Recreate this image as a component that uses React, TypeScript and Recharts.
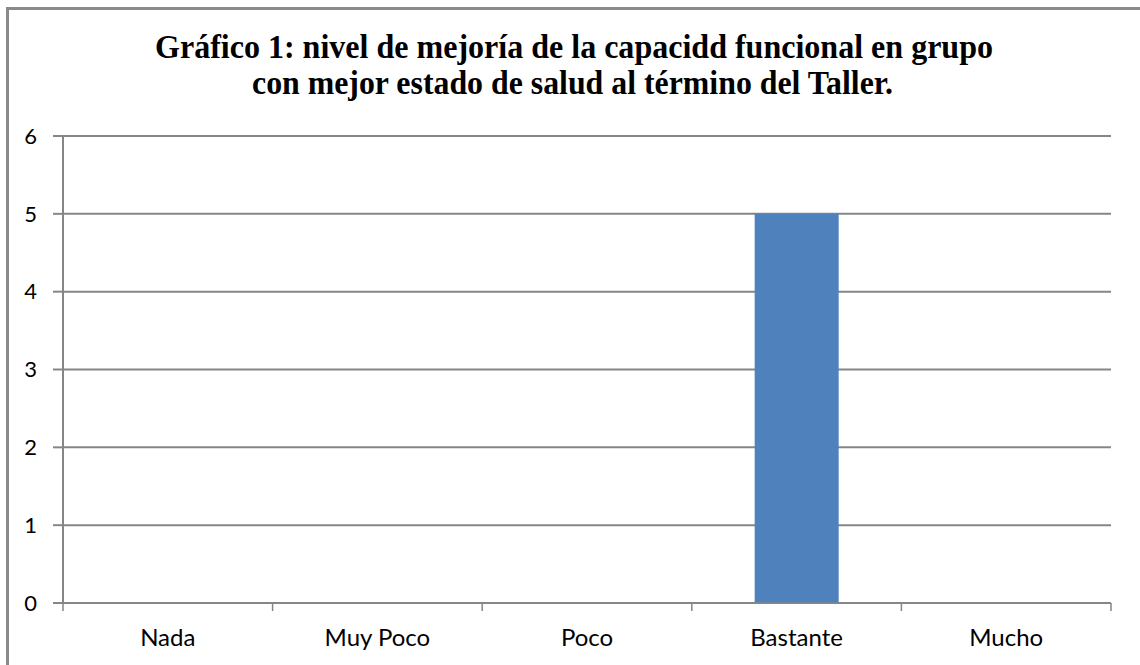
import React from 'react';
import { BarChart, Bar, XAxis, YAxis, CartesianGrid } from 'recharts';

const categories = ['Nada', 'Muy Poco', 'Poco', 'Bastante', 'Mucho'];
const values = [0, 0, 0, 5, 0];
const yTicks = [0, 1, 2, 3, 4, 5, 6];
const titleLines = [
  'Gráfico 1: nivel de mejoría de la capacidd funcional en grupo',
  'con mejor estado de salud al término del Taller.',
];

const data = categories.map((c, i) => ({ name: c, value: values[i] }));

const GRAY = '#868686';
const Y_FONT = { fontFamily: 'Lato, "Open Sans", sans-serif', fontSize: 22, fill: '#000' };
const TITLE_STYLE = { fontFamily: '"Liberation Serif", "Times New Roman", serif', fontWeight: 'bold' as const, fontSize: 33 };

function CategoryTick(props: any) {
  const { x, y, payload, index, width } = props;
  const half = payload && typeof payload.offset === 'number' && payload.offset > 0
    ? payload.offset
    : (width || 1048) / categories.length / 2;
  const isLast = index === categories.length - 1;
  return (
    <g>
      <line x1={x - half} x2={x - half} y1={y} y2={y + 8} stroke={GRAY} strokeWidth={1.5} />
      {isLast && <line x1={x + half} x2={x + half} y1={y} y2={y + 8} stroke={GRAY} strokeWidth={1.5} />}
      <text
        x={x}
        y={y + 26}
        dy="0.71em"
        textAnchor="middle"
        fill="#000"
        style={{ fontFamily: 'Lato, "Open Sans", sans-serif', fontSize: 24 }}
      >
        {payload.value}
      </text>
    </g>
  );
}

export default function App() {
  return (
    <div style={{ position: 'absolute', left: 0, top: 0, width: 1140, height: 665, background: '#fff', overflow: 'hidden' }}>
      <div
        style={{
          position: 'absolute',
          left: 6,
          top: 7,
          width: 1131,
          height: 655,
          borderLeft: '3px solid #8a8a8a',
          borderTop: '3px solid #8a8a8a',
        }}
      />
      <div style={{ position: 'absolute', left: 0, top: 0 }}>
        <BarChart
          width={1140}
          height={665}
          data={data}
          margin={{ top: 136, right: 29, left: 0, bottom: 0 }}
          barCategoryGap="30%"
        >
          <CartesianGrid vertical={false} stroke={GRAY} strokeWidth={2} />
          <XAxis
            dataKey="name"
            height={62}
            axisLine={{ stroke: GRAY, strokeWidth: 1.5 }}
            tickLine={false}
            tickSize={0}
            tickMargin={0}
            tick={<CategoryTick />}
            interval={0}
          />
          <YAxis
            width={63}
            domain={[0, 6]}
            ticks={yTicks}
            interval={0}
            axisLine={{ stroke: GRAY, strokeWidth: 2 }}
            tickLine={{ stroke: GRAY, strokeWidth: 2 }}
            tickSize={10}
            tickMargin={16}
            tick={Y_FONT}
          />
          <Bar dataKey="value" fill="#4F81BD" isAnimationActive={false} />
        </BarChart>
      </div>
      <svg width={1140} height={130} style={{ position: 'absolute', left: 0, top: 0 }}>
        <text x={155} y={58} textLength={838} lengthAdjust="spacingAndGlyphs" style={TITLE_STYLE} fill="#000">
          {titleLines[0]}
        </text>
        <text x={252} y={94} textLength={641} lengthAdjust="spacingAndGlyphs" style={TITLE_STYLE} fill="#000">
          {titleLines[1]}
        </text>
      </svg>
    </div>
  );
}
